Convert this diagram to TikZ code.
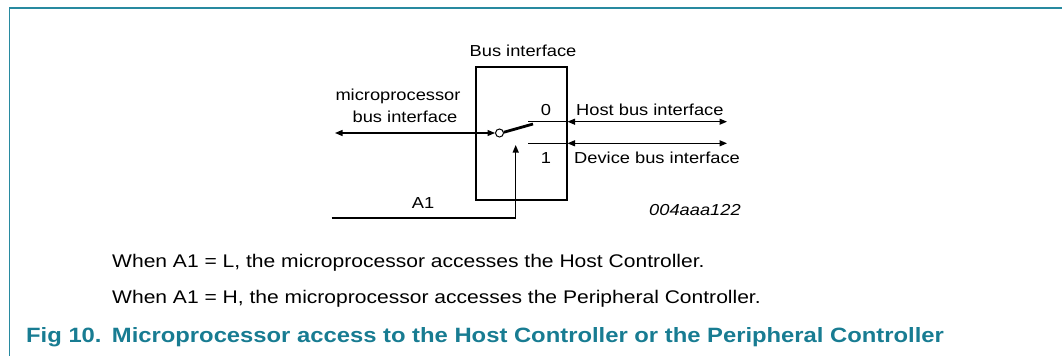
\documentclass[tikz,border=0pt]{standalone}
\usepackage{fontspec}
\setmainfont{Liberation Sans}[FakeStretch=1.15]
\usetikzlibrary{arrows.meta}
\definecolor{nxpteal}{RGB}{24,124,146}
\definecolor{framecol}{RGB}{40,138,160}
\begin{document}
\begin{tikzpicture}[x=1pt,y=-1pt,
  lbl/.style={inner sep=0pt,font=\fontsize{15.9}{19}\selectfont},
  body/.style={inner sep=0pt,anchor=base west,font=\fontsize{18.3}{22}\selectfont},
  wire/.style={line width=1.1pt},
  tip/.style={-{Triangle[length=7.5pt,width=6pt]}},
  dtip/.style={{Triangle[length=7.5pt,width=6pt]}-{Triangle[length=7.5pt,width=6pt]}}]
\useasboundingbox (0,0) rectangle (1062,356);
% frame
\coordinate (ftl) at (9.3,8);
\coordinate (ftr) at (1062,8);
\coordinate (fbl) at (9.3,356);
\draw[framecol,line width=1.6pt] (fbl) -- (ftl) -- (ftr);
% box
\node[draw,line width=2pt,minimum width=91pt,minimum height=133pt,inner sep=0pt] (box) at (521,133.5) {};
\node[lbl,anchor=base] (title) at (523,56.7) {Bus interface};
% switch
\node[draw,circle,line width=1pt,minimum size=8pt,inner sep=0pt] (pivot) at (499.5,133) {};
\coordinate (mpl) at (335,133);
\draw[wire,dtip] (mpl) -- (pivot.west);
\coordinate (lever) at (533,124);
\draw[line width=2.8pt] (pivot.10) -- (lever);
% host line
\coordinate (hostL) at (528,121.7);
\coordinate (hostR) at (727,121.7);
\coordinate (hostB) at (box.east |- hostL);
\draw[wire] (hostL) -- (hostB);
\draw[wire,dtip] (hostB) -- (hostR);
% device line
\coordinate (devL) at (528,143.3);
\coordinate (devR) at (727,143.3);
\coordinate (devB) at (box.east |- devL);
\draw[wire] (devL) -- (devB);
\draw[wire,dtip] (devB) -- (devR);
% A1
\coordinate (a1s) at (331.7,218);
\coordinate (a1c) at (515.7,218);
\coordinate (a1e) at (515.7,145);
\draw[wire,tip] (a1s) -- (a1c) -- (a1e);
% labels
\node[lbl,anchor=base] (mp1) at (398,100) {microprocessor};
\node[lbl,anchor=base] (mp2) at (405,122.7) {bus interface};
\node[lbl,anchor=base] (zero) at (546,115) {0};
\node[lbl,anchor=base] (one) at (546,163.3) {1};
\node[lbl,anchor=base west] (hbi) at (576,115) {Host bus interface};
\node[lbl,anchor=base west] (dbi) at (574,163.3) {Device bus interface};
\node[lbl,anchor=base] (a1) at (423,208.3) {A1};
\node[lbl,anchor=base,font=\fontsize{15.9}{19}\selectfont\itshape] (code) at (695,215) {004aaa122};
% body text
\node[body] (l1) at (112,267.3) {When A1 = L, the microprocessor accesses the Host Controller.};
\node[body] (l2) at (112,303) {When A1 = H, the microprocessor accesses the Peripheral Controller.};
\node[inner sep=0pt,anchor=base west,text=nxpteal,font=\fontsize{20.7}{25}\selectfont\bfseries] (cap) at (26,342.3) {Fig 10.\hspace{1.5pt} Microprocessor access to the Host Controller or the Peripheral Controller};
\end{tikzpicture}
\end{document}
